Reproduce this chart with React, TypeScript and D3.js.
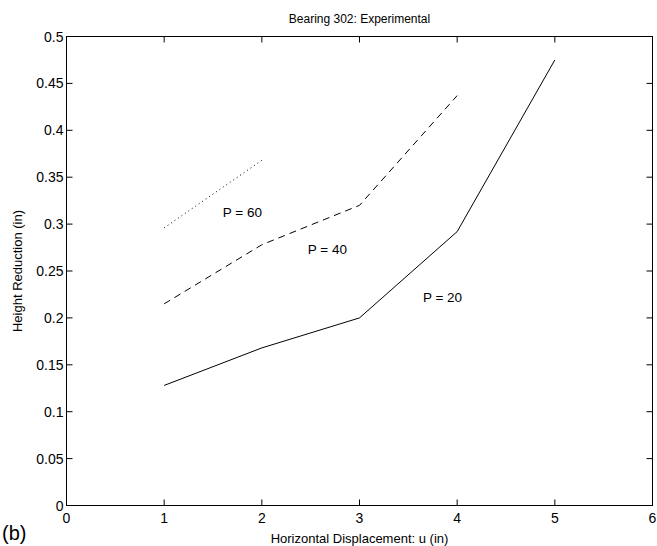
import React from "react";
import * as d3 from "d3";

const xTicks = [0, 1, 2, 3, 4, 5, 6];
const yTicks = [0, 0.05, 0.1, 0.15, 0.2, 0.25, 0.3, 0.35, 0.4, 0.45, 0.5];

const uP20 = [1, 2, 3, 4, 5];
const hP20 = [0.128, 0.168, 0.2, 0.292, 0.475];
const uP40 = [1, 2, 3, 4];
const hP40 = [0.215, 0.278, 0.32, 0.437];
const uP60 = [1, 2];
const hP60 = [0.296, 0.368];

const curveLabels = ["P = 60", "P = 40", "P = 20"];
const labelPos = [
  [1.6, 0.308],
  [2.47, 0.268],
  [3.65, 0.217],
];

const W = 657;
const H = 546;
const M = { left: 66.5, right: 4.5, top: 36.5, bottom: 40.5 };

export default function App() {
  const x = d3.scaleLinear().domain([0, 6]).range([M.left, W - M.right]);
  const y = d3.scaleLinear().domain([0, 0.5]).range([H - M.bottom, M.top]);
  const line = d3
    .line<[number, number]>()
    .x((d) => x(d[0]))
    .y((d) => y(d[1]));
  const zip = (a: number[], b: number[]) =>
    a.map((v, i) => [v, b[i]] as [number, number]);

  const series = [
    { d: zip(uP20, hP20), dash: undefined as string | undefined },
    { d: zip(uP40, hP40), dash: "7,5" },
    { d: zip(uP60, hP60), dash: "1,3.2" },
  ];

  const font = "Helvetica, Arial, 'Liberation Sans', sans-serif";
  const x0 = x(0), x1 = x(6), y0 = y(0), y1 = y(0.5);
  const tl = 6;

  return (
    <svg
      width={W}
      height={H}
      style={{ position: "absolute", left: 0, top: 0, background: "#fff" }}
      fontFamily={font}
    >
      <rect x={x0} y={y1} width={x1 - x0} height={y0 - y1} fill="none" stroke="#000" strokeWidth={1} />
      {xTicks.map((t) => (
        <g key={"x" + t}>
          <line x1={x(t)} x2={x(t)} y1={y0} y2={y0 - tl} stroke="#000" />
          <line x1={x(t)} x2={x(t)} y1={y1} y2={y1 + tl} stroke="#000" />
          <text x={x(t)} y={y0 + 17} fontSize={14} textAnchor="middle">
            {t}
          </text>
        </g>
      ))}
      {yTicks.map((t) => (
        <g key={"y" + t}>
          <line x1={x0} x2={x0 + tl} y1={y(t)} y2={y(t)} stroke="#000" />
          <line x1={x1} x2={x1 - tl} y1={y(t)} y2={y(t)} stroke="#000" />
          <text x={x0 - 3} y={y(t) + 5} fontSize={14} textAnchor="end">
            {String(t)}
          </text>
        </g>
      ))}
      {series.map((s, i) => (
        <path
          key={i}
          d={line(s.d) || ""}
          fill="none"
          stroke="#000"
          strokeWidth={1}
          strokeDasharray={s.dash}
        />
      ))}
      {curveLabels.map((l, i) => (
        <text key={l} x={x(labelPos[i][0])} y={y(labelPos[i][1])} fontSize={13.5}>
          {l}
        </text>
      ))}
      <text x={(x0 + x1) / 2} y={23} fontSize={12} textAnchor="middle">
        Bearing 302: Experimental
      </text>
      <text x={(x0 + x1) / 2} y={543} fontSize={13} textAnchor="middle">
        Horizontal Displacement: u (in)
      </text>
      <text
        transform={`translate(22,${(y0 + y1) / 2}) rotate(-90)`}
        fontSize={13}
        textAnchor="middle"
      >
        Height Reduction (in)
      </text>
      <text x={2} y={540} fontSize={20}>
        (b)
      </text>
    </svg>
  );
}
